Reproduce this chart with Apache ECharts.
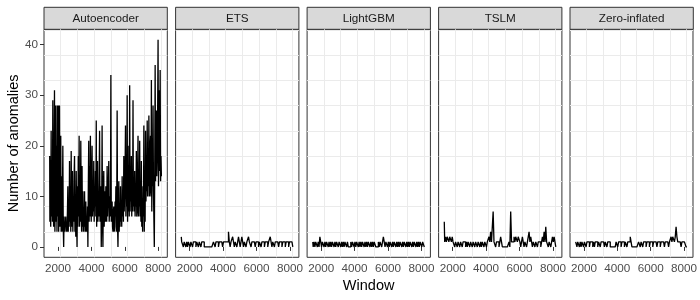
<!DOCTYPE html>
<html><head><meta charset="utf-8">
<script src="https://cdn.jsdelivr.net/npm/echarts@6/dist/echarts.min.js"></script>
<style>html,body{margin:0;padding:0;background:#fff}#c{width:700px;height:300px}</style>
</head><body><div id="c"></div>
<script>
const panelNames = ['Autoencoder', 'ETS', 'LightGBM', 'TSLM', 'Zero-inflated'];

const autoencoderWindows = [
1500,1525,1550,1575,1600,1625,1650,1675,1700,1725,
1750,1775,1800,1825,1850,1875,1900,1925,1950,1975,
2000,2025,2050,2075,2100,2125,2150,2175,2200,2225,
2250,2275,2300,2325,2350,2375,2400,2425,2450,2475,
2500,2525,2550,2575,2600,2625,2650,2675,2700,2725,
2750,2775,2800,2825,2850,2875,2900,2925,2950,2975,
3000,3025,3050,3075,3100,3125,3150,3175,3200,3225,
3250,3275,3300,3325,3350,3375,3400,3425,3450,3475,
3500,3525,3550,3575,3600,3625,3650,3675,3700,3725,
3750,3775,3800,3825,3850,3875,3900,3925,3950,3975,
4000,4025,4050,4075,4100,4125,4150,4175,4200,4225,
4250,4275,4300,4325,4350,4375,4400,4425,4450,4475,
4500,4525,4550,4575,4600,4625,4650,4675,4700,4725,
4750,4775,4800,4825,4850,4875,4900,4925,4950,4975,
5000,5025,5050,5075,5100,5125,5150,5175,5200,5225,
5250,5275,5300,5325,5350,5375,5400,5425,5450,5475,
5500,5525,5550,5575,5600,5625,5650,5675,5700,5725,
5750,5775,5800,5825,5850,5875,5900,5925,5950,5975,
6000,6025,6050,6075,6100,6125,6150,6175,6200,6225,
6250,6275,6300,6325,6350,6375,6400,6425,6450,6475,
6500,6525,6550,6575,6600,6625,6650,6675,6700,6725,
6750,6775,6800,6825,6850,6875,6900,6925,6950,6975,
7000,7025,7050,7075,7100,7125,7150,7175,7200,7225,
7250,7275,7300,7325,7350,7375,7400,7425,7450,7475,
7500,7525,7550,7575,7600,7625,7650,7675,7700,7725,
7750,7775,7800,7825,7850,7875,7900,7925,7950,7975,
8000,8025,8050,8075,8100,8125,8150,8175,8200];

const autoencoder = [
18,5,10,4,23,6,14,5,29,8,
4,16,31,3,12,28,5,20,3,28,
6,28,3,15,28,4,10,22,3,14,
3,9,20,4,0,6,3,5,4,6,
3,5,3,7,12,3,9,4,17,5,
12,3,19,6,4,15,3,10,5,14,
18,3,8,2,15,6,0,12,4,18,
6,22,4,12,5,21,8,3,16,4,
11,3,7,4,11,3,5,9,3,6,
3,8,0,12,21,5,16,6,22,9,
5,14,20,6,10,7,17,5,12,8,
15,6,25,4,12,17,5,10,6,14,
23,5,9,12,0,7,24,6,0,10,
15,4,11,9,5,12,8,5,16,6,
6,12,17,5,8,10,6,34,5,8,
9,4,3,7,8,3,4,9,6,12,
3,7,27,4,0,6,13,3,8,4,
12,5,9,4,14,6,10,5,18,7,
7,15,24,6,12,8,30,5,14,7,
20,6,32,7,12,9,18,6,14,7,
29,8,12,7,15,6,11,8,19,6,
7,14,22,6,10,8,21,6,12,5,
17,4,9,3,12,6,24,3,15,5,
23,9,14,11,25,10,18,12,26,10,
11,20,22,10,33,7,17,12,28,11,
11,0,15,36,13,22,27,14,18,27,
41,12,20,31,15,35,13,18,14];

const windows = [
1500,1550,1600,1650,1700,1750,1800,1850,1900,1950,
2000,2050,2100,2150,2200,2250,2300,2350,2400,2450,
2500,2550,2600,2650,2700,2750,2800,2850,2900,2950,
3000,3050,3100,3150,3200,3250,3300,3350,3400,3450,
3500,3550,3600,3650,3700,3750,3800,3850,3900,3950,
4000,4050,4100,4150,4200,4250,4300,4350,4400,4450,
4500,4550,4600,4650,4700,4750,4800,4850,4900,4950,
5000,5050,5100,5150,5200,5250,5300,5350,5400,5450,
5500,5550,5600,5650,5700,5750,5800,5850,5900,5950,
6000,6050,6100,6150,6200,6250,6300,6350,6400,6450,
6500,6550,6600,6650,6700,6750,6800,6850,6900,6950,
7000,7050,7100,7150,7200,7250,7300,7350,7400,7450,
7500,7550,7600,7650,7700,7750,7800,7850,7900,7950,
8000,8050,8100,8150,8200];

const ets = [
2,1,1,0,1,1,0,1,0,1,
1,0,1,1,0,1,1,1,0,1,
1,0,1,1,0,1,1,1,0,0,
0,0,0,0,0,0,0,0,0,1,
1,0,1,1,1,0,1,1,1,1,
0,1,1,1,1,1,1,3,1,0,
1,1,2,1,0,1,1,0,1,2,
1,0,1,2,1,0,1,1,0,1,
1,2,1,1,0,1,1,1,1,0,
1,1,1,0,1,1,0,1,1,1,
0,1,1,1,0,1,1,2,1,0,
1,1,0,1,1,1,1,0,1,1,
1,0,1,1,1,0,1,1,1,0,
1,1,1,1,0];

const lightgbm = [
1,0,1,0,1,1,0,1,0,2,
1,0,1,1,0,1,0,1,1,0,
1,0,1,0,1,1,0,1,0,1,
1,0,1,1,0,1,0,1,0,1,
1,0,1,0,0,0,1,0,1,1,
0,1,0,1,1,0,1,0,1,0,
1,1,0,1,0,1,0,1,1,0,
1,0,1,0,1,1,0,0,0,1,
0,1,1,0,1,2,1,0,1,1,
0,1,0,1,1,0,1,0,1,1,
0,1,0,1,0,1,1,0,1,0,
1,1,0,1,0,1,0,1,1,0,
1,0,1,1,0,1,0,1,0,1,
1,0,1,1,0];

const tslm = [
5,1,2,1,2,2,1,2,2,1,
2,1,1,0,1,1,0,1,1,0,
1,1,0,1,1,1,0,1,0,1,
1,0,1,1,0,1,1,0,1,1,
0,1,1,0,1,0,1,1,0,1,
1,0,1,1,2,1,3,1,1,7,
1,1,0,1,1,1,0,1,2,1,
0,0,0,0,0,0,0,0,1,0,
7,1,1,1,2,1,2,2,1,2,
2,1,0,1,2,1,0,1,1,0,
1,1,3,1,2,1,0,1,1,0,
1,1,0,1,1,1,0,1,2,1,
3,1,4,1,1,0,1,1,0,1,
2,1,2,1,0];

const zeroInflated = [
1,1,0,1,1,0,1,0,1,1,
0,1,1,0,1,1,1,0,1,1,
1,0,1,0,1,1,1,0,1,1,
0,1,1,1,1,0,1,1,0,1,
1,1,0,0,0,0,0,0,0,1,
1,0,1,1,1,0,1,1,1,0,
1,1,0,1,1,1,2,1,0,0,
0,0,0,0,0,0,1,1,0,1,
1,0,1,1,1,0,1,1,1,0,
1,1,1,0,1,1,1,1,0,1,
1,1,0,1,1,1,1,0,1,1,
1,1,0,1,1,2,1,2,2,1,
2,4,2,1,1,1,1,0,1,1,
1,1,1,0,0];

const xTickLabels = [2000, 4000, 6000, 8000];
const yTickLabels = [0, 10, 20, 30, 40];
const xGridStep = 1000;
const yGridStep = 5;

const seriesWindows = [autoencoderWindows, windows, windows, windows, windows];
const seriesValues = [autoencoder, ets, lightgbm, tslm, zeroInflated];

const FONT = 'Liberation Sans, Arial, Helvetica, sans-serif';
const lefts = [44, 175.6, 307.1, 438.6, 570];
const panelW = 123.3, panelTop = 29.3, panelH = 228;
const xMin = 1160, xMax = 8540, yMin = -2.05, yMax = 43.05;

const grids = [], xAxes = [], yAxes = [], series = [], graphics = [];
panelNames.forEach((name, i) => {
  grids.push({left: lefts[i], top: panelTop, width: panelW, height: panelH,
    show: true, backgroundColor: '#fff', borderColor: '#333333', borderWidth: 1, containLabel: false});
  xAxes.push({gridIndex: i, type: 'value', min: xMin, max: xMax, position: 'bottom',
    axisLine: {show: false}, splitLine: {show: false},
    axisTick: {show: true, length: 4, customValues: xTickLabels, lineStyle: {color: '#333333', width: 1}},
    axisLabel: {show: true, customValues: xTickLabels, formatter: v => String(v), color: '#4D4D4D', fontSize: 11.7, fontFamily: FONT, margin: 5}});
  xAxes.push({gridIndex: i, type: 'value', min: xMin, max: xMax, interval: xGridStep, position: 'top',
    axisLine: {show: false}, axisTick: {show: false}, axisLabel: {show: false},
    splitLine: {show: true, showMinLine: false, showMaxLine: false, lineStyle: {color: '#EBEBEB', width: 1}}});
  yAxes.push({gridIndex: i, type: 'value', min: yMin, max: yMax, position: 'left',
    axisLine: {show: false}, splitLine: {show: false},
    axisTick: {show: i === 0, length: 4, customValues: yTickLabels, lineStyle: {color: '#333333', width: 1}},
    axisLabel: {show: i === 0, customValues: yTickLabels, formatter: v => String(v), color: '#4D4D4D', fontSize: 11.7, fontFamily: FONT, margin: 6}});
  yAxes.push({gridIndex: i, type: 'value', min: yMin, max: yMax, interval: yGridStep, position: 'right',
    axisLine: {show: false}, axisTick: {show: false}, axisLabel: {show: false},
    splitLine: {show: true, showMinLine: false, showMaxLine: false, lineStyle: {color: '#EBEBEB', width: 1}}});
  series.push({type: 'line', name: name, xAxisIndex: 2 * i, yAxisIndex: 2 * i,
    data: seriesWindows[i].map((w, k) => [w, seriesValues[i][k]]),
    step: 'middle', showSymbol: false, symbol: 'none', animation: false, silent: true,
    lineStyle: {color: '#000', width: 1.3}, z: 5});
  graphics.push({type: 'rect', shape: {x: lefts[i], y: 7.3, width: panelW, height: 22},
    style: {fill: '#D9D9D9', stroke: '#333333', lineWidth: 1}, silent: true});
  graphics.push({type: 'text', x: lefts[i] + panelW / 2, y: 18.5,
    style: {text: name, fill: '#1A1A1A', fontSize: 11.7, fontFamily: FONT, textAlign: 'center', textVerticalAlign: 'middle'}, silent: true});
});
graphics.push({type: 'text', x: (lefts[0] + lefts[4] + panelW) / 2, y: 285.5,
  style: {text: 'Window', fill: '#000', fontSize: 14.5, fontFamily: FONT, textAlign: 'center', textVerticalAlign: 'middle'}});
graphics.push({type: 'text', x: 14, y: panelTop + panelH / 2, rotation: Math.PI / 2,
  style: {text: 'Number of anomalies', fill: '#000', fontSize: 14.5, fontFamily: FONT, textAlign: 'center', textVerticalAlign: 'middle'}});

const chart = echarts.init(document.getElementById('c'), null, {renderer: 'canvas', width: 700, height: 300});
chart.setOption({animation: false, backgroundColor: '#fff', grid: grids, xAxis: xAxes, yAxis: yAxes, series: series, graphic: graphics});
</script></body></html>
